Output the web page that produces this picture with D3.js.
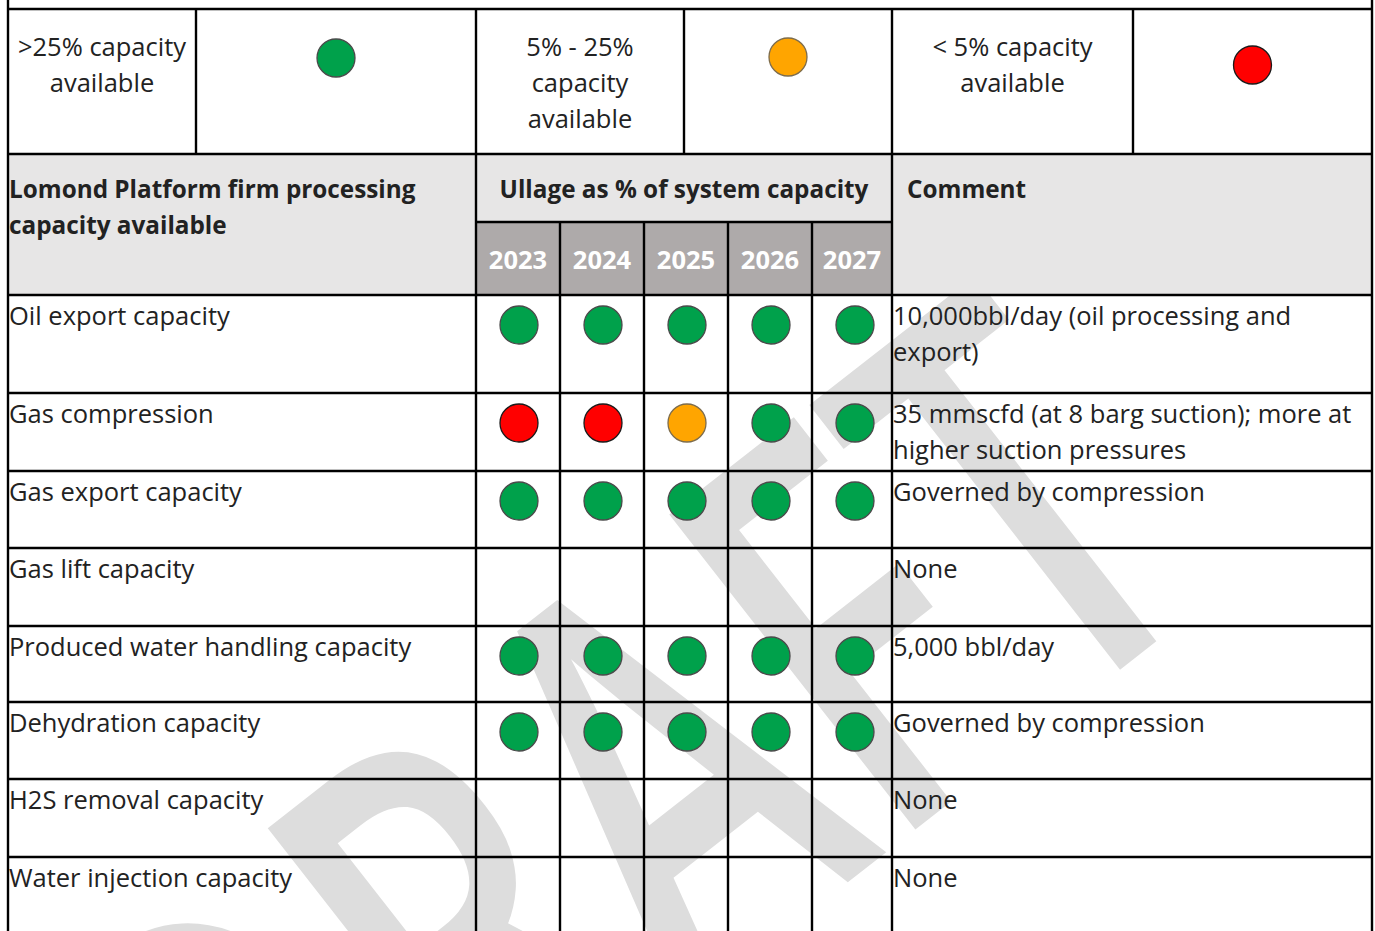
<!DOCTYPE html>
<html>
<head>
<meta charset="utf-8">
<script src="https://cdn.jsdelivr.net/npm/d3@7"></script>
<style>
  body { margin: 0; background: #fff; }
  svg text { font-family: "Open Sans", sans-serif; }
</style>
</head>
<body>
<div id="chart"></div>
<script>
// ---- data ----
var years = ["2023", "2024", "2025", "2026", "2027"];
var capacities = [
    "Oil export capacity",
    "Gas compression",
    "Gas export capacity",
    "Gas lift capacity",
    "Produced water handling capacity",
    "Dehydration capacity",
    "H2S removal capacity",
    "Water injection capacity"
];
// g = >25%, a = 5-25%, r = <5%, null = no rating
var ratings = [
    ["g", "g", "g", "g", "g"],
    ["r", "r", "a", "g", "g"],
    ["g", "g", "g", "g", "g"],
    [null, null, null, null, null],
    ["g", "g", "g", "g", "g"],
    ["g", "g", "g", "g", "g"],
    [null, null, null, null, null],
    [null, null, null, null, null]
];
var comments = [
    ["10,000bbl/day (oil processing and", "export)"],
    ["35 mmscfd (at 8 barg suction); more at", "higher suction pressures"],
    ["Governed by compression"],
    ["None"],
    ["5,000 bbl/day"],
    ["Governed by compression"],
    ["None"],
    ["None"]
];
var legendLabels = [
    [">25% capacity", "available"],
    ["5% - 25%", "capacity", "available"],
    ["< 5% capacity", "available"]
];
var legendRatings = ["g", "a", "r"];
var headLeft = ["Lomond Platform firm processing", "capacity available"];
var headMid = "Ullage as % of system capacity";
var headRight = "Comment";

// ---- layout ----
var width = 1375, height = 931;
var x0 = 8, x1 = 1372;
var legTop = 9, headTop = 154, yearTop = 222, headBottom = 295;
var legendCols = [8, 196, 476, 684, 892, 1133, 1372];
var legendDotY = [58, 57, 65];
var colYears = [476, 892];
var rowHeights = [98, 78, 77, 78, 76, 77, 78, 78];
var lineH = 36;
var dotR = 19;
var textColor = "#222";

var rowTops = [headBottom].concat(Array.from(d3.cumsum(rowHeights), d => headBottom + d));

// year columns are 84px wide, the last one is cut by the comment column
var x = d3.scaleBand().domain(years).range([colYears[0], colYears[0] + 84 * years.length]);
var color = d3.scaleOrdinal().domain(["g", "a", "r"]).range(["#00a14b", "#ffa500", "#ff0000"]);
var strokeColor = d3.scaleOrdinal().domain(["g", "a", "r"]).range(["#4a4a4a", "#7d6c4c", "#1a1a1a"]);

var svg = d3.select("#chart").append("svg")
    .attr("width", width)
    .attr("height", height);

svg.append("rect").attr("width", width).attr("height", height).attr("fill", "#fff");

// watermark
svg.append("text")
    .attr("transform", "translate(742,965) rotate(-38) scale(0.7,1)")
    .attr("text-anchor", "middle")
    .style("font-size", "560px")
    .style("font-weight", 600)
    .attr("fill", "#dddddd")
    .text("DRAFT");

// header fills
svg.append("rect")
    .attr("x", x0).attr("y", headTop)
    .attr("width", x1 - x0).attr("height", headBottom - headTop)
    .attr("fill", "#e7e6e6");

svg.append("g").selectAll("rect")
    .data(years)
    .join("rect")
    .attr("x", d => x(d))
    .attr("y", yearTop)
    .attr("width", d => Math.min(x(d) + x.bandwidth(), colYears[1]) - x(d))
    .attr("height", headBottom - yearTop)
    .attr("fill", "#aeaaaa");

// legend
var legend = svg.append("g");
legendLabels.forEach(function(lines, i) {
    var cx = (legendCols[i * 2] + legendCols[i * 2 + 1]) / 2;
    legend.append("text")
        .attr("text-anchor", "middle")
        .attr("fill", textColor)
        .style("font-size", "25.5px")
        .selectAll("tspan")
        .data(lines)
        .join("tspan")
        .attr("x", cx)
        .attr("y", (d, j) => 56 + j * lineH)
        .text(d => d);
    legend.append("circle")
        .attr("cx", (legendCols[i * 2 + 1] + legendCols[i * 2 + 2]) / 2)
        .attr("cy", legendDotY[i])
        .attr("r", dotR)
        .attr("fill", color(legendRatings[i]))
        .attr("stroke", strokeColor(legendRatings[i]))
        .attr("stroke-width", 1.3);
});

// header texts
var head = svg.append("g")
    .style("font-size", "24.3px")
    .style("font-weight", 700)
    .attr("fill", textColor);

head.append("text")
    .selectAll("tspan")
    .data(headLeft)
    .join("tspan")
    .attr("x", 9)
    .attr("y", (d, j) => 198 + j * lineH)
    .text(d => d);

head.append("text")
    .attr("x", (colYears[0] + colYears[1]) / 2)
    .attr("y", 198)
    .attr("text-anchor", "middle")
    .text(headMid);

head.append("text")
    .attr("x", 907)
    .attr("y", 198)
    .text(headRight);

head.selectAll(".year")
    .data(years)
    .join("text")
    .attr("class", "year")
    .attr("x", d => (x(d) + Math.min(x(d) + x.bandwidth(), colYears[1])) / 2)
    .attr("y", 269)
    .attr("text-anchor", "middle")
    .attr("fill", "#fff")
    .style("font-size", "25.5px")
    .text(d => d);

// rows
var rows = svg.append("g")
    .selectAll("g")
    .data(capacities)
    .join("g")
    .attr("transform", (d, i) => "translate(0," + rowTops[i] + ")");

rows.append("text")
    .attr("x", 9)
    .attr("y", 30)
    .attr("fill", textColor)
    .style("font-size", "25.5px")
    .text(d => d);

rows.append("text")
    .attr("fill", textColor)
    .style("font-size", "25.5px")
    .selectAll("tspan")
    .data((d, i) => comments[i])
    .join("tspan")
    .attr("x", 893)
    .attr("y", (d, j) => 30 + j * lineH)
    .text(d => d);

rows.selectAll("circle")
    .data((d, i) => ratings[i].map((r, j) => ({ year: years[j], r: r })).filter(e => e.r))
    .join("circle")
    .attr("cx", d => x(d.year) + x.bandwidth() / 2 + 1)
    .attr("cy", 30)
    .attr("r", dotR)
    .attr("fill", d => color(d.r))
    .attr("stroke", d => strokeColor(d.r))
    .attr("stroke-width", 1.3);

// grid lines
var grid = svg.append("g")
    .attr("stroke", "#000")
    .attr("stroke-width", 2.4);

function vline(xp, ya, yb) {
    grid.append("line").attr("x1", xp).attr("x2", xp).attr("y1", ya).attr("y2", yb);
}
function hline(yp, xa, xb) {
    grid.append("line").attr("x1", xa).attr("x2", xb).attr("y1", yp).attr("y2", yp);
}

vline(x0, 0, height);
vline(x1, 0, height);
hline(legTop, x0, x1);
hline(headTop, x0, x1);
hline(headBottom, x0, x1);
rowTops.slice(1).forEach(y => hline(y, x0, x1));
legendCols.slice(1, -1).forEach(c => vline(c, legTop, headTop));
colYears.forEach(c => vline(c, headTop, height));
hline(yearTop, colYears[0], colYears[1]);
years.slice(1).forEach(d => vline(x(d), yearTop, height));
</script>
</body>
</html>
